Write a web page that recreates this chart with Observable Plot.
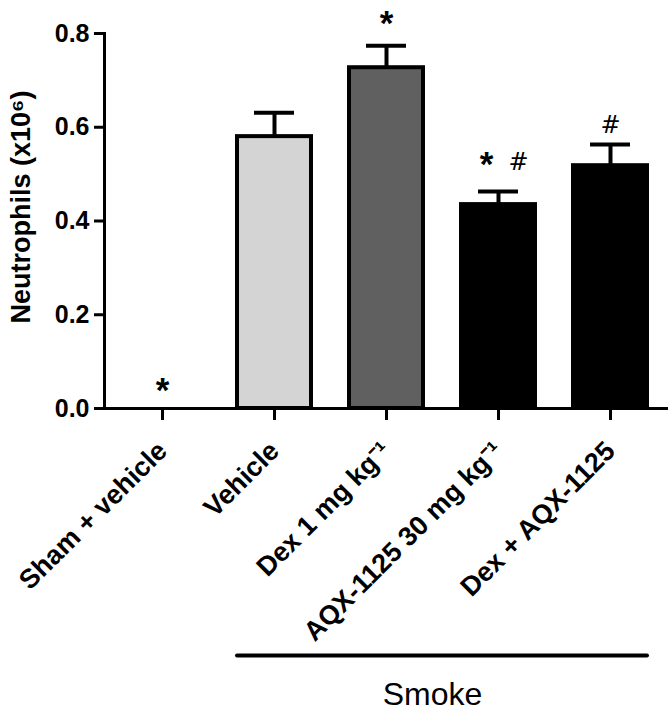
<!DOCTYPE html>
<html>
<head>
<meta charset="utf-8">
<script src="https://cdn.jsdelivr.net/npm/d3@7"></script>
<script src="https://cdn.jsdelivr.net/npm/@observablehq/plot@0.6"></script>
<style>
  html, body { margin: 0; padding: 0; background: #fff; }
  #chart svg { display: block; }
</style>
</head>
<body>
<div id="chart"></div>
<script>
// ---- data ----
const groups = ["Sham + vehicle", "Vehicle", "Dex 1 mg kg⁻¹", "AQX-1125 30 mg kg⁻¹", "Dex + AQX-1125"];
const means = [0, 0.58, 0.727, 0.435, 0.518];
const upper = [0, 0.631, 0.774, 0.463, 0.563];
const fills = ["#ffffff", "#d4d4d4", "#606060", "#000000", "#000000"];
const yTicks = [0, 0.2, 0.4, 0.6, 0.8];
const yLabel = "Neutrophils (x10⁶)";
const starGroups = ["Sham + vehicle", "Dex 1 mg kg⁻¹", "AQX-1125 30 mg kg⁻¹"];
const starY = [0.058, 0.84, 0.54];
const hashGroups = ["AQX-1125 30 mg kg⁻¹", "Dex + AQX-1125"];
const hashY = [0.525, 0.605];
const smokeGroups = ["Vehicle", "Dex + AQX-1125"];
const smokeLabel = "Smoke";

// ---- tables ----
const rows = groups.map((g, i) => ({group: g, mean: means[i], upper: upper[i], fill: fills[i]}));
const bars = rows.filter(d => d.mean > 0);
const stars = starGroups.map((g, i) => ({group: g, y: starY[i]}));
const hashes = hashGroups.map((g, i) => ({group: g, y: hashY[i]}));
const paired = new Set(starGroups.filter(g => hashGroups.includes(g)));

const FONT = "'Liberation Sans', Arial, Helvetica, sans-serif";
const HASHFONT = "'DejaVu Sans', sans-serif";

const chart = Plot.plot({
  width: 670,
  height: 714,
  marginLeft: 104,
  marginRight: 2,
  marginTop: 33,
  marginBottom: 306,
  style: {fontFamily: FONT, background: "#fff", color: "#000"},
  x: {domain: groups, paddingInner: 0.34, paddingOuter: 0.17, label: null},
  y: {domain: [0, 0.8], label: null},
  marks: [
    Plot.barY(bars, {x: "group", y: "mean", fill: "fill", stroke: "#000", strokeWidth: 4}),
    Plot.ruleX(bars, {x: "group", y1: "mean", y2: "upper", stroke: "#000", strokeWidth: 4}),
    Plot.tickY(bars, {x: "group", y: "upper", stroke: "#000", strokeWidth: 4, insetLeft: 17, insetRight: 17}),
    Plot.ruleY([0], {stroke: "#000", strokeWidth: 3}),
    Plot.frame({anchor: "left", stroke: "#000", strokeWidth: 3}),
    Plot.axisY({ticks: yTicks, tickFormat: ".1f", tickSize: 10, tickPadding: 5, strokeWidth: 3,
      fontSize: 25, fontWeight: "bold", label: null}),
    // x tick marks
    Plot.axisX({tickSize: 12, strokeWidth: 3, tickFormat: () => "", label: null}),
    // x tick labels
    Plot.axisX({tickSize: 0, tickPadding: 16, tickRotate: -45,
      fontSize: 27, fontWeight: "bold", label: null, dy: 22, dx: 0}),
    Plot.text([yLabel], {frameAnchor: "left", rotate: -90, dx: -83, dy: -14, fontSize: 27,
      fontWeight: "bold", lineAnchor: "middle", textAnchor: "middle"}),
    // significance markers
    Plot.text(stars.filter(d => !paired.has(d.group)), {x: "group", y: "y", text: () => "*",
      fontSize: 35, fontWeight: "bold", lineAnchor: "middle", dy: 9}),
    Plot.text(stars.filter(d => paired.has(d.group)), {x: "group", y: "y", text: () => "*",
      fontSize: 35, fontWeight: "bold", lineAnchor: "middle", dy: 9, dx: -12}),
    Plot.text(hashes.filter(d => !paired.has(d.group)), {x: "group", y: "y", text: () => "#",
      fontFamily: HASHFONT, fontSize: 24, fontWeight: "normal", lineAnchor: "middle"}),
    Plot.text(hashes.filter(d => paired.has(d.group)), {x: "group", y: "y", text: () => "#",
      fontFamily: HASHFONT, fontSize: 24, fontWeight: "normal", lineAnchor: "middle", dx: 20}),
    // smoke bracket
    Plot.ruleY([0], {x1: () => smokeGroups[0], x2: () => smokeGroups[1], dy: 247,
      stroke: "#000", strokeWidth: 4, strokeLinecap: "round"}),
    Plot.text([smokeLabel], {frameAnchor: "bottom", dx: 46, dy: 286, fontSize: 32,
      fontWeight: "normal", lineAnchor: "middle"})
  ]
});
document.getElementById("chart").appendChild(chart);
</script>
</body>
</html>
